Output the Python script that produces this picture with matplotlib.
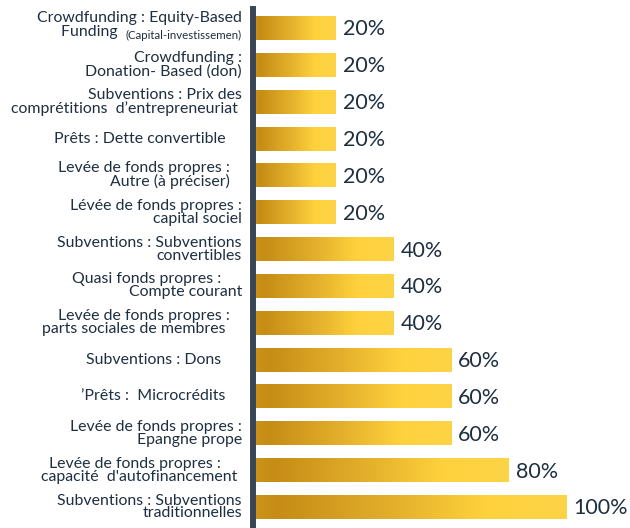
import numpy as np
import matplotlib.pyplot as plt
from matplotlib.colors import LinearSegmentedColormap

# categories, top to bottom
labels = [
    "Crowdfunding : Equity-Based",
    "Crowdfunding :\nDonation- Based (don)",
    "Subventions : Prix des\ncomprétitions  d’entrepreneuriat ",
    "Prêts : Dette convertible    ",
    "Levée de fonds propres :   \nAutre (à préciser)   ",
    "Lévée de fonds propres :\ncapital sociel",
    "Subventions : Subventions\nconvertibles",
    "Quasi fonds propres :     \nCompte courant",
    "Levée de fonds propres :   \nparts sociales de membres    ",
    "Subventions : Dons     ",
    "’Prêts :  Microcrédits    ",
    "Levée de fonds propres :\nEpangne prope",
    "Levée de fonds propres :     \ncapacité  d'autofinancement ",
    "Subventions : Subventions\ntraditionnelles",
]
# second line of the first label, with its smaller note
first_line2 = "Funding  "
first_note = "(Capital-investissemen)"

values = [20, 20, 20, 20, 20, 20, 40, 40, 40, 60, 60, 60, 80, 100]

text_col = "#1e2f40"
axis_col = "#3a4658"
gold = LinearSegmentedColormap.from_list(
    "gold", [(0.0, "#cc9419"), (0.08, "#c68c16"), (0.45, "#e4b02c"),
             (0.75, "#ffd23d"), (1.0, "#fdd447")])

plt.rcParams['font.family'] = ['Lato', 'DejaVu Sans']

fig = plt.figure(figsize=(6.3, 5.28), dpi=100)
ax = fig.add_axes([253/630, 0, 377/630, 519/528])

x0 = -8.8  # bars start at the axis line
n = len(values)
ax.set_xlim(x0, 122.1)
ax.set_ylim(n - 0.43, -0.516)

grad = np.linspace(0, 1, 256).reshape(1, -1)
h = 0.65
for i, v in enumerate(values):
    ax.imshow(grad, cmap=gold, aspect='auto', interpolation='bilinear',
              extent=(x0, v, i + h/2, i - h/2), zorder=2)
    ax.text(v + 2.4, i + 0.04, f"{v}%", va='center', ha='left',
            fontsize=15.5, color=text_col)

fs = 11.4
for i, lab in enumerate(labels):
    if i == 0:
        continue
    ax.annotate(lab, xy=(0, i), xycoords=('axes fraction', 'data'),
                xytext=(-8, 0), textcoords='offset points',
                ha='right', va='center', multialignment='right',
                fontsize=fs, color=text_col, linespacing=0.9)

# first label built from pieces, the note is set smaller
t1 = ax.annotate(labels[0], xy=(0, 0), xycoords=('axes fraction', 'data'),
                 xytext=(-8, 2.5), textcoords='offset points',
                 ha='right', va='bottom', fontsize=fs, color=text_col)
note = ax.annotate(first_note, xy=(0, 0), xycoords=('axes fraction', 'data'),
                   xytext=(-8, -1.2), textcoords='offset points',
                   ha='right', va='top', fontsize=8.3, color=text_col)
ax.annotate(first_line2, xy=(0, 0.12), xycoords=note,
            ha='right', va='bottom', fontsize=fs, color=text_col)

ax.set_xticks([])
ax.set_yticks([])
for s in ['top', 'right', 'bottom']:
    ax.spines[s].set_visible(False)
ax.spines['left'].set_color(axis_col)
ax.spines['left'].set_linewidth(4.3)
ax.spines['left'].set_zorder(3)
ax.patch.set_alpha(0)

fig.savefig("out.png", dpi=100)
